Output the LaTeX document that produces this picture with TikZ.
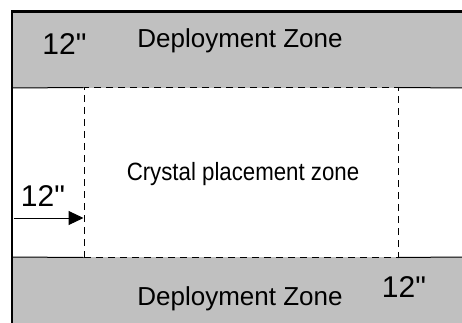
\documentclass[tikz,border=0pt]{standalone}
\usepackage{fontspec}
\setmainfont{Liberation Sans}
\newfontfamily\dimfont{Liberation Sans}
\usetikzlibrary{arrows.meta}
\definecolor{zonegray}{RGB}{192,192,192}
\tikzset{
  dimtext/.style={inner sep=0pt,anchor=base,font=\dimfont\fontsize{30}{36}\selectfont},
  zonetext/.style={inner sep=0pt,anchor=base,font=\fontsize{26}{31}\selectfont},
  placebox/.style={draw,line width=1pt,dash pattern=on 7pt off 5pt,inner sep=0pt,minimum width=314pt,minimum height=169pt},
}
\begin{document}
\begin{tikzpicture}[x=1pt,y=1pt,yscale=-1,xscale=1]
\useasboundingbox (0,0) rectangle (462,323);
% deployment zones
\fill[zonegray] (12,11) rectangle (462,88);
\fill[zonegray] (12,257) rectangle (462,323);
% crystal zone
\node[placebox] (crystal) at (241,172.5) {};
\node[inner sep=0pt,anchor=base,font=\fontsize{25}{30}\selectfont] (crystallabel) at (243,180.7) {\scalebox{0.89}[1]{Crystal placement zone}};
\draw[line width=1pt] (12,88) -- (crystal.north west);
\draw[line width=1pt] (crystal.north east) -- (462,88);
\draw[line width=1pt] (12,257) -- (crystal.south west);
\draw[line width=1pt] (crystal.south east) -- (462,257);
% table edge
\draw[line width=2.5pt] (12,323) -- (12,11.5) -- (462,11.5);
% 12" arrow
\coordinate (arrowtail) at (13.5,218);
\draw[line width=1pt,-{Triangle[length=15pt,width=14pt]}] (arrowtail) -- (arrowtail -| crystal.west);
\node[dimtext] (topdim) at (64.5,55) {12\symbol{34}};
\node[zonetext] (topzone) at (240,48) {Deployment Zone};
\node[dimtext] (leftdim) at (43,206) {12\symbol{34}};
\node[zonetext] (bottomzone) at (240,305) {Deployment Zone};
\node[dimtext] (bottomdim) at (404,297) {12\symbol{34}};
\end{tikzpicture}
\end{document}
